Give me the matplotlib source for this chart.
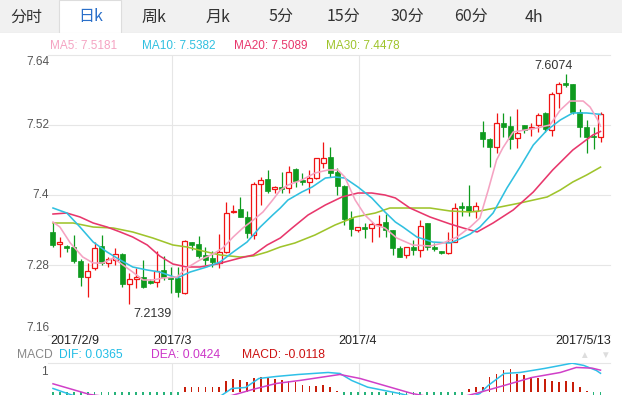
import matplotlib.pyplot as plt
from matplotlib.patches import Rectangle

W, H = 622, 395

# Cotacoes diarias (indice 0 = 2017/2/9, ultimo = 2017/5/13)
abertura = [
    7.3366, 7.3160, 7.3126, 7.3109, 7.2869, 7.2594, 7.2749, 7.3126, 7.2834, 7.2886,
    7.2989, 7.2474, 7.2560, 7.2594, 7.2526, 7.2509, 7.2714, 7.2594, 7.2577, 7.2320,
    7.3194, 7.3160, 7.2972, 7.2920, 7.2834, 7.3023, 7.3709, 7.3760, 7.3623, 7.3314,
    7.4189, 7.4274, 7.4103, 7.4137, 7.4120, 7.4446, 7.4257, 7.4223, 7.4291, 7.4548,
    7.4651, 7.4394, 7.4154, 7.3606, 7.3400, 7.3451, 7.3434, 7.3486, 7.3537, 7.3400,
    7.3092, 7.2972, 7.3109, 7.3057, 7.3520, 7.3109, 7.3040, 7.3006, 7.3194, 7.3811,
    7.3811, 7.3726, 7.5080, 7.4960, 7.4823, 7.5234, 7.5183, 7.4977, 7.5200, 7.5148,
    7.5200, 7.5406, 7.5114, 7.5748, 7.5920, 7.5903, 7.5423, 7.5166, 7.5011, 7.4994,
]
maxima = [
    7.3537, 7.3280, 7.3143, 7.3314, 7.2903, 7.2834, 7.3194, 7.3314, 7.2937, 7.3092,
    7.3006, 7.2663, 7.2749, 7.2886, 7.2560, 7.3040, 7.2954, 7.2766, 7.2766, 7.3229,
    7.3194, 7.3297, 7.3109, 7.3040, 7.3332, 7.3880, 7.3829, 7.3966, 7.3726, 7.4223,
    7.4309, 7.4429, 7.4154, 7.4394, 7.4497, 7.4463, 7.4377, 7.4429, 7.4634, 7.4908,
    7.4823, 7.4463, 7.4171, 7.3726, 7.3451, 7.3520, 7.3537, 7.3657, 7.3674, 7.3400,
    7.3126, 7.3109, 7.3229, 7.3571, 7.3520, 7.3177, 7.3040, 7.3366, 7.3863, 7.3880,
    7.4171, 7.3880, 7.5268, 7.4977, 7.5406, 7.5406, 7.5354, 7.5474, 7.5200, 7.5234,
    7.5406, 7.5423, 7.5765, 7.5937, 7.6074, 7.5903, 7.5474, 7.5286, 7.5166, 7.5423,
]
minima = [
    7.3109, 7.2937, 7.3023, 7.2834, 7.2440, 7.2252, 7.2714, 7.2800, 7.2766, 7.2800,
    7.2423, 7.2139, 7.2406, 7.2406, 7.2474, 7.2423, 7.2543, 7.2320, 7.2252, 7.2303,
    7.3057, 7.2920, 7.2800, 7.2766, 7.2749, 7.3006, 7.3691, 7.3623, 7.3263, 7.3246,
    7.3829, 7.4034, 7.4034, 7.4034, 7.4034, 7.4137, 7.4171, 7.4034, 7.4274, 7.4463,
    7.4309, 7.4000, 7.3486, 7.3297, 7.3366, 7.3263, 7.3194, 7.3280, 7.3280, 7.2972,
    7.2937, 7.2920, 7.2972, 7.2937, 7.3057, 7.3040, 7.2989, 7.2989, 7.3194, 7.3640,
    7.3640, 7.3606, 7.4823, 7.4480, 7.4720, 7.4994, 7.4788, 7.4806, 7.5063, 7.5011,
    7.5080, 7.5080, 7.5011, 7.5491, 7.5851, 7.5388, 7.4994, 7.4720, 7.4788, 7.4908,
]
fechamento = [
    7.3143, 7.3194, 7.3092, 7.2869, 7.2594, 7.2697, 7.3092, 7.2834, 7.2903, 7.2989,
    7.2474, 7.2560, 7.2594, 7.2423, 7.2492, 7.2697, 7.2594, 7.2560, 7.2337, 7.3212,
    7.3143, 7.2954, 7.2886, 7.2852, 7.3023, 7.3691, 7.3726, 7.3623, 7.3349, 7.4189,
    7.4257, 7.4069, 7.4137, 7.4103, 7.4394, 7.4240, 7.4223, 7.4291, 7.4634, 7.4634,
    7.4377, 7.4154, 7.3589, 7.3417, 7.3451, 7.3417, 7.3503, 7.3503, 7.3400, 7.3092,
    7.2937, 7.3109, 7.3057, 7.3469, 7.3109, 7.3074, 7.3006, 7.3194, 7.3777, 7.3777,
    7.3726, 7.3811, 7.4960, 7.4823, 7.5234, 7.5166, 7.4960, 7.5063, 7.5114, 7.5166,
    7.5371, 7.5131, 7.5731, 7.5903, 7.5885, 7.5423, 7.5166, 7.4994, 7.4994, 7.5388,
]

# Medias moveis (posicao em candles, valor)
ma5_x = [0, 1, 2.5, 4.3, 5.8, 7.2, 8.7, 10.1, 11.5, 13, 14.4, 15.9, 17.9, 19.3, 21.2, 23.1,
         24.5, 26, 27.4, 28.9, 30.3, 31.7, 32.8, 33.9, 35.9, 37.8, 39.7, 41.1, 42.1, 43.6,
         45, 46.5, 47.9, 49.6, 51.9, 54.4, 56.3, 58.3, 60.2, 61.6, 62.8, 64, 64.9, 66.4,
         69.8, 71.7, 73.2, 74.6, 76.5, 77.5, 78.6, 79]
ma5_y = [7.3537, 7.3451, 7.3177, 7.2937, 7.2834, 7.2834, 7.2920, 7.2800, 7.2680, 7.2543,
         7.2543, 7.2577, 7.2594, 7.2749, 7.2886, 7.2989, 7.3092, 7.3280, 7.3434, 7.3571,
         7.3709, 7.3914, 7.4086, 7.4171, 7.4257, 7.4377, 7.4429, 7.4429, 7.4309, 7.3914,
         7.3657, 7.3486, 7.3434, 7.3263, 7.3143, 7.3126, 7.3177, 7.3280, 7.3451, 7.3606,
         7.4086, 7.4600, 7.4806, 7.5080, 7.5148, 7.5200, 7.5457, 7.5611, 7.5611, 7.5508,
         7.5286, 7.5181]

ma10_x = [0, 2, 3.9, 5.8, 7.8, 9.7, 11.5, 13.6, 15.4, 17.9, 19.8, 22.2, 24.1, 26, 28, 29.9,
          31.7, 32.8, 33.9, 35.9, 37.4, 39.3, 40.7, 42.1, 44, 46, 47.9, 49.4, 50.5, 52.5,
          54.8, 57.3, 58.7, 60.2, 61.6, 63.5, 65.5, 67.4, 69.3, 71.3, 73.2, 75, 77, 79]
ma10_y = [7.3777, 7.3691, 7.3451, 7.3194, 7.3023, 7.2886, 7.2766, 7.2714, 7.2680, 7.2577,
          7.2680, 7.2766, 7.2852, 7.3023, 7.3194, 7.3451, 7.3657, 7.3777, 7.3914, 7.4051,
          7.4137, 7.4291, 7.4309, 7.4291, 7.4137, 7.3949, 7.3709, 7.3537, 7.3451, 7.3280,
          7.3194, 7.3177, 7.3246, 7.3331, 7.3451, 7.3691, 7.4120, 7.4480, 7.4857, 7.5114,
          7.5286, 7.5406, 7.5406, 7.5382]

ma20_x = [0, 2, 3.9, 5.8, 7.8, 9.7, 11.5, 13.6, 15.4, 17.3, 19.3, 21.2, 23.7, 27, 28.9,
          30.9, 32.8, 34.5, 36.8, 39.3, 41.7, 44, 46, 47.9, 49.4, 51.5, 54.4, 57.3, 59.2,
          61.2, 63.5, 66.4, 69.3, 72.1, 75, 77.9, 79]
ma20_y = [7.3674, 7.3691, 7.3623, 7.3520, 7.3451, 7.3366, 7.3280, 7.3143, 7.2954, 7.2817,
          7.2766, 7.2766, 7.2817, 7.2920, 7.2972, 7.3143, 7.3263, 7.3434, 7.3657, 7.3829,
          7.3966, 7.4034, 7.4034, 7.4000, 7.3949, 7.3777, 7.3623, 7.3503, 7.3434, 7.3366,
          7.3520, 7.3743, 7.4051, 7.4429, 7.4771, 7.5029, 7.5089]

ma30_x = [0, 2.9, 5.8, 8.7, 11.5, 14.4, 17.3, 19.3, 21.6, 24.1, 27, 28.9, 30.9, 32.8, 34.9,
          37.8, 40.7, 43.6, 46.5, 48.6, 51.5, 54.4, 57.3, 60.2, 61.6, 64.5, 67.4, 71.3,
          73.2, 75, 77, 79]
ma30_y = [7.3520, 7.3520, 7.3451, 7.3434, 7.3366, 7.3263, 7.3143, 7.3109, 7.3040, 7.2972,
          7.2937, 7.2954, 7.3023, 7.3109, 7.3177, 7.3314, 7.3486, 7.3623, 7.3691, 7.3777,
          7.3777, 7.3777, 7.3726, 7.3709, 7.3726, 7.3794, 7.3863, 7.3966, 7.4086, 7.4223,
          7.4343, 7.4478]

# Painel MACD (a parte negativa fica cortada pela borda da imagem)
dif_x = [0, 2.9, 8, 16, 22, 24.3, 25.8, 27.8, 29.7, 32.2, 35.4, 39.7, 41.4, 43.1, 45.4,
         47.8, 50, 54, 60, 61.6, 62.8, 65.1, 67.4, 70.9, 73.2, 74.9, 76.6, 78.4, 79]
dif_y = [0.0076, -0.0057, -0.020, -0.025, -0.015, -0.0057, 0.0076, 0.0095, 0.0266, 0.0304,
         0.0342, 0.0380, 0.0361, 0.0228, 0.0101, 0.0038, -0.0019, -0.015, -0.010, -0.0019,
         0.0133, 0.0361, 0.0380, 0.0456, 0.0513, 0.0557, 0.0513, 0.0418, 0.0365]
dea_x = [0, 5.3, 15, 22, 25.8, 28.9, 32.2, 35.6, 38.5, 41.4, 44.3, 47.8, 51.8, 57, 61,
         65.1, 69.1, 73.2, 75.5, 77.8, 79]
dea_y = [0.0165, -0.0038, -0.020, -0.015, -0.0057, 0.0060, 0.0171, 0.0228, 0.0285, 0.0342,
         0.0266, 0.0133, -0.0019, -0.015, -0.0019, 0.0133, 0.0285, 0.0380, 0.0475, 0.0462,
         0.0424]
macd_hist = [
    -0.018, -0.022, -0.026, -0.030, -0.033, -0.034, -0.033, -0.031, -0.030, -0.028,
    -0.027, -0.026, -0.024, -0.022, -0.020, -0.017, -0.014, -0.011, -0.006,
    0.0095, 0.011, 0.011, 0.011, 0.0095, 0.011, 0.021, 0.025, 0.023, 0.019, 0.027,
    0.030, 0.029, 0.025, 0.023, 0.021, 0.019, 0.015, 0.013, 0.013, 0.015, 0.0095, 0.002,
    -0.008, -0.018, -0.026, -0.032, -0.036, -0.038, -0.038, -0.036, -0.034, -0.031,
    -0.028, -0.025, -0.022, -0.018, -0.015, -0.012, -0.008, -0.004,
    0.006, 0.0095, 0.011, 0.029, 0.036, 0.042, 0.044, 0.036, 0.034, 0.030, 0.027,
    0.025, 0.021, 0.019, 0.021, 0.019, 0.011, 0.002,
    -0.006, -0.0118,
]

abas = ['分时', '日k', '周k', '月k', '5分', '15分', '30分', '60分', '4h']
ma_legenda = ['MA5: 7.5181', 'MA10: 7.5382', 'MA20: 7.5089', 'MA30: 7.4478']
macd_legenda = ['DIF: 0.0365', 'DEA: 0.0424', 'MACD: -0.0118']
precos_eixo = [7.64, 7.52, 7.4, 7.28, 7.16]
datas = ['2017/2/9', '2017/3', '2017/4', '2017/5/13']
inicio_mes = [17.2, 44.2]

VERMELHO = '#f01414'
VERDE = '#0e9a1e'
COR_MA = ['#f5a3c2', '#30c0e0', '#e8376c', '#9fc42c']
GRADE = '#e6e6e6'

plt.rcParams['font.family'] = ['Liberation Sans', 'Noto Sans CJK SC', 'DejaVu Sans']


def fx(x):
    return x / W


def fy(y):
    return 1 - y / H


fig = plt.figure(figsize=(W / 100, H / 100), dpi=100)

# Barra de abas no topo
barra = fig.add_axes([0, fy(33), 1, 33 / H])
barra.set_xlim(0, W)
barra.set_ylim(33, 0)
barra.axis('off')
barra.add_patch(Rectangle((0, 0), W, 33, color='#f1f1f1', lw=0))
barra.axhline(32.5, color='#dddddd', lw=0.8)
barra.add_patch(Rectangle((59, 0), 62, 34, facecolor='white', edgecolor='#dddddd', lw=0.8))
abas_x = [26, 91, 154, 218, 281, 344, 407, 471, 534]
for nome, x in zip(abas, abas_x):
    cor = '#2a6fc9' if nome == '日k' else '#333333'
    fig.text(fx(x), fy(17), nome, ha='center', va='center', fontsize=11.5, color=cor,
             family=['Noto Sans CJK SC', 'DejaVu Sans'])

# Legenda das medias
for txt, x, cor in zip(ma_legenda, [50, 142, 234, 326], COR_MA):
    fig.text(fx(x), fy(46), txt, ha='left', va='center', fontsize=8.5, color=cor)

# Grafico principal (candles + medias)
ax = fig.add_axes([fx(48), fy(335), (610 - 48) / W, (335 - 55) / H])
ax.set_xlim(-0.72, 80.37)
ax.set_ylim(7.16, 7.64)
ax.axis('off')
for p in precos_eixo:
    ax.axhline(p, color=GRADE, lw=0.8, clip_on=False, zorder=0)
for m in inicio_mes:
    ax.axvline(m, color=GRADE, lw=0.8, zorder=0)

larg = 0.72
for i in range(len(abertura)):
    o, h, l, c = abertura[i], maxima[i], minima[i], fechamento[i]
    topo, base = max(o, c), min(o, c)
    altura = max(topo - base, 0.0012)
    if c >= o:
        ax.vlines(i, topo, h, color=VERMELHO, lw=0.9, zorder=3)
        ax.vlines(i, l, base, color=VERMELHO, lw=0.9, zorder=3)
        ax.add_patch(Rectangle((i - larg / 2, base), larg, altura, facecolor='white',
                               edgecolor=VERMELHO, lw=0.9, zorder=4))
    else:
        ax.vlines(i, l, h, color=VERDE, lw=0.9, zorder=3)
        ax.add_patch(Rectangle((i - larg / 2, base), larg, altura, facecolor=VERDE,
                               edgecolor=VERDE, lw=0.5, zorder=4))

for xs, ys, cor in [(ma30_x, ma30_y, COR_MA[3]), (ma20_x, ma20_y, COR_MA[2]),
                    (ma10_x, ma10_y, COR_MA[1]), (ma5_x, ma5_y, COR_MA[0])]:
    ax.plot(xs, ys, color=cor, lw=1.15, zorder=5, solid_joinstyle='round')

# Maxima e minima do periodo
i_max = maxima.index(max(maxima))
i_min = minima.index(min(minima))
ax.annotate(f'{maxima[i_max]:.4f}', xy=(i_max, maxima[i_max]), xytext=(7, 2),
            textcoords='offset pixels', ha='right', va='bottom', fontsize=9, color='#333333')
ax.annotate(f'{minima[i_min]:.4f}', xy=(i_min, minima[i_min]), xytext=(4, -4),
            textcoords='offset pixels', ha='left', va='top', fontsize=9, color='#333333')

# Rotulos do eixo de precos
for p, y in zip(precos_eixo, [62, 125, 195, 266, 328]):
    fig.text(fx(49), fy(y), f'{p:g}', ha='right', va='center', fontsize=8.5, color='#555555')

# Datas
fig.text(fx(50), fy(341), datas[0], ha='left', va='center', fontsize=9, color='#222222')
fig.text(fx(172), fy(341), datas[1], ha='center', va='center', fontsize=9, color='#222222')
fig.text(fx(358), fy(341), datas[2], ha='center', va='center', fontsize=9, color='#222222')
fig.text(fx(611), fy(341), datas[3], ha='right', va='center', fontsize=9, color='#222222')

# Legenda do MACD
fig.text(fx(17), fy(355), 'MACD', ha='left', va='center', fontsize=8.7, color='#888888')
for txt, x, cor in zip(macd_legenda, [59, 151, 242], ['#22bde6', '#cc36c8', '#cc1111']):
    fig.text(fx(x), fy(355), txt, ha='left', va='center', fontsize=8.7, color=cor)
fig.text(fx(584), fy(355), '▲', ha='center', va='center', fontsize=7, color='#dddddd')
fig.text(fx(605), fy(355), '▼', ha='center', va='center', fontsize=7, color='#dddddd')
fig.text(fx(48), fy(372), '1', ha='right', va='center', fontsize=8.5, color='#555555')

# Painel MACD
axm = fig.add_axes([fx(48), 0, (610 - 48) / W, (395 - 363) / H])
axm.set_xlim(-0.72, 80.37)
axm.set_ylim(-0.0048, 0.056)
axm.axis('off')
axm.axhline(0.056, color=GRADE, lw=0.8, clip_on=False)
for m in inicio_mes:
    axm.axvline(m, color=GRADE, lw=0.8, zorder=0)
cores_hist = [VERMELHO if v > 0 else '#2cc08a' for v in macd_hist]
cores_hist = ['#c81e0a' if v > 0 else '#27b37a' for v in macd_hist]
axm.bar(range(len(macd_hist)), macd_hist, width=0.25, color=cores_hist, zorder=2)
axm.plot(dif_x, dif_y, color='#2ec0e8', lw=1.1, zorder=3)
axm.plot(dea_x, dea_y, color='#d03fc8', lw=1.1, zorder=3)

plt.savefig('out.png', dpi=100)
plt.close()
